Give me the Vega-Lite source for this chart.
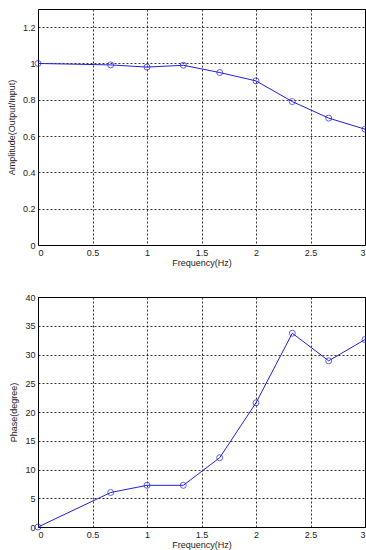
{
  "$schema": "https://vega.github.io/schema/vega-lite/v6.json",
  "padding": {"left": 6, "top": 8, "right": 0, "bottom": 0},
  "background": "white",
  "config": {
    "view": {"stroke": "black", "strokeWidth": 1},
    "font": "Liberation Sans",
    "axis": {
      "labelFont": "Liberation Sans",
      "titleFont": "Liberation Sans",
      "labelFontSize": 9,
      "titleFontSize": 9,
      "titleFontWeight": "normal",
      "labelColor": "#222",
      "titleColor": "#222",
      "ticks": false,
      "domain": false,
      "gridColor": "black",
      "gridDash": [2, 2],
      "gridOpacity": 0.8,
      "gridWidth": 1,
      "labelPadding": 3
    }
  },
  "data": {
    "values": [
      {"f": 0, "amp": 1.0, "phase": 0},
      {"f": 0.667, "amp": 0.992, "phase": 6.0},
      {"f": 1, "amp": 0.98, "phase": 7.25},
      {"f": 1.333, "amp": 0.99, "phase": 7.25},
      {"f": 1.667, "amp": 0.95, "phase": 12.05},
      {"f": 2, "amp": 0.904, "phase": 21.6},
      {"f": 2.333, "amp": 0.79, "phase": 33.7},
      {"f": 2.667, "amp": 0.699, "phase": 28.9},
      {"f": 3, "amp": 0.638, "phase": 32.6}
    ]
  },
  "vconcat": [
    {
      "width": 327,
      "height": 236,
      "encoding": {
        "x": {"field": "f", "type": "quantitative", "scale": {"domain": [0, 3], "nice": false},
          "axis": {"values": [0, 0.5, 1, 1.5, 2, 2.5, 3], "format": "~g", "title": "Frequency(Hz)", "titlePadding": 1}},
        "y": {"field": "amp", "type": "quantitative", "scale": {"domain": [0, 1.3], "nice": false},
          "axis": {"values": [0, 0.2, 0.4, 0.6, 0.8, 1, 1.2], "format": "~g", "title": "Amplitude(Output/Input)", "titlePadding": 6}}
      },
      "layer": [
        {"mark": {"type": "line", "color": "#2020e0", "strokeWidth": 1}},
        {"mark": {"type": "point", "shape": "circle", "filled": false, "color": "#2020e0", "size": 36, "strokeWidth": 1}}
      ]
    },
    {
      "width": 327,
      "height": 230,
      "encoding": {
        "x": {"field": "f", "type": "quantitative", "scale": {"domain": [0, 3], "nice": false},
          "axis": {"values": [0, 0.5, 1, 1.5, 2, 2.5, 3], "format": "~g", "title": "Frequency(Hz)", "titlePadding": 1}},
        "y": {"field": "phase", "type": "quantitative", "scale": {"domain": [0, 40], "nice": false},
          "axis": {"values": [0, 5, 10, 15, 20, 25, 30, 35, 40], "format": "~g", "title": "Phase(degree)", "titlePadding": 6}}
      },
      "layer": [
        {"mark": {"type": "line", "color": "#2020e0", "strokeWidth": 1}},
        {"mark": {"type": "point", "shape": "circle", "filled": false, "color": "#2020e0", "size": 36, "strokeWidth": 1}}
      ]
    }
  ],
  "spacing": 24
}
